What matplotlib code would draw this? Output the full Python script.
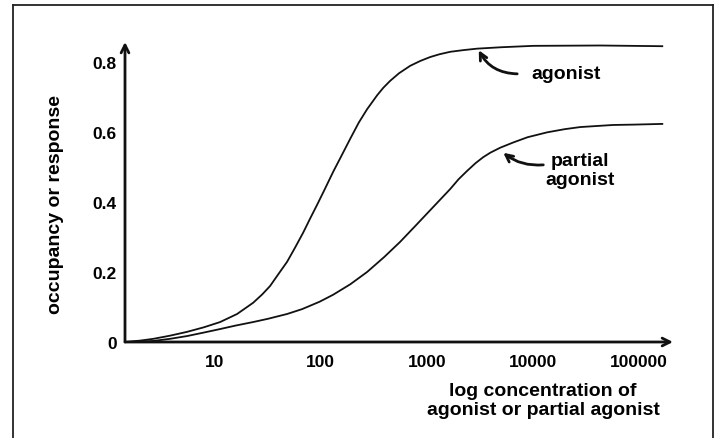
import matplotlib.pyplot as plt
from matplotlib.lines import Line2D

plt.rcParams['font.family'] = ['Liberation Sans', 'DejaVu Sans']
plt.rcParams['font.weight'] = 'bold'

# log10 of concentration
agonist_logc = [0.157, 0.30, 0.423, 0.58, 0.742, 0.90, 1.053, 1.213, 1.364, 1.45, 1.524,
                1.60, 1.684, 1.76, 1.835, 1.90, 1.967, 2.04, 2.118, 2.20, 2.278, 2.36,
                2.438, 2.533, 2.59, 2.655, 2.74, 2.844, 2.94, 3.032, 3.12, 3.221,
                3.35, 3.475, 3.70, 4.003, 4.634, 5.219]
agonist_resp = [0.0, 0.004, 0.009, 0.018, 0.029, 0.042, 0.057, 0.080, 0.112, 0.136, 0.160,
                0.193, 0.229, 0.270, 0.312, 0.352, 0.392, 0.437, 0.486, 0.534, 0.580, 0.627,
                0.665, 0.705, 0.726, 0.746, 0.768, 0.789, 0.803, 0.814, 0.822, 0.829,
                0.834, 0.838, 0.842, 0.846, 0.847, 0.845]

partial_logc = [0.157, 0.30, 0.423, 0.58, 0.742, 0.90, 1.053, 1.20, 1.364, 1.50, 1.684,
                1.826, 1.99, 2.118, 2.28, 2.438, 2.60, 2.749, 2.90, 3.062, 3.14, 3.221,
                3.30, 3.381, 3.46, 3.532, 3.60, 3.692, 3.815, 3.95, 4.135, 4.30, 4.446,
                4.60, 4.757, 4.95, 5.219]
partial_resp = [0.0, 0.001, 0.003, 0.009, 0.017, 0.027, 0.037, 0.047, 0.057, 0.066, 0.080,
                0.094, 0.115, 0.135, 0.165, 0.200, 0.243, 0.286, 0.334, 0.386, 0.411, 0.437,
                0.465, 0.489, 0.511, 0.528, 0.541, 0.555, 0.570, 0.585, 0.599, 0.608, 0.614,
                0.617, 0.620, 0.621, 0.623]

x_ticks = [10, 100, 1000, 10000, 100000]
x_tick_labels = ['10', '100', '1000', '10000', '100000']
y_ticks = [0, 0.2, 0.4, 0.6, 0.8]
y_tick_labels = ['0', '0.2', '0.4', '0.6', '0.8']

fig = plt.figure(figsize=(7.2, 4.39), dpi=100)
ax = fig.add_axes([125/720, 1 - 343/439, 548/720, 300/439])

ax.plot([10**v for v in agonist_logc], agonist_resp, color='#111111', lw=1.3)
ax.plot([10**v for v in partial_logc], partial_resp, color='#111111', lw=1.3)

ax.set_xscale('log')
ax.set_xlim(10**0.157, 10**5.32)
ax.set_ylim(0, 0.857)
ax.set_xticks(x_ticks)
ax.set_xticklabels(x_tick_labels)
ax.minorticks_off()
ax.set_yticks(y_ticks)
ax.set_yticklabels(y_tick_labels)
ax.tick_params(axis='both', length=0, labelsize=12.5)
ax.tick_params(axis='x', pad=9)
ax.tick_params(axis='y', pad=6)
for s in ax.spines.values():
    s.set_visible(False)

# axes drawn as arrows
ax.annotate('', xy=(1.0, 0), xytext=(0, 0), xycoords='axes fraction',
            arrowprops=dict(arrowstyle='->', lw=2.0, color='#111111',
                            shrinkA=0, shrinkB=0, mutation_scale=14))
ax.annotate('', xy=(0, 1.0), xytext=(0, 0), xycoords='axes fraction',
            arrowprops=dict(arrowstyle='->', lw=2.0, color='#111111',
                            shrinkA=0, shrinkB=0, mutation_scale=14))

fig.text(55/720, 1 - 204/439, 'occupancy or response', rotation=90,
         ha='center', va='center', fontsize=14, fontweight='bold')
fig.text(543/720, 1 - 401/439, 'log concentration of\nagonist or partial agonist',
         ha='center', va='center', fontsize=14, fontweight='bold', linespacing=1.1)

# labels with curved arrows
ax.annotate('', xy=(10**3.484, 0.837), xytext=(10**3.852, 0.766),
            arrowprops=dict(arrowstyle='->', lw=2.0, color='#111111',
                            connectionstyle='arc3,rad=-0.3',
                            shrinkA=0, shrinkB=1, mutation_scale=13))
ax.text(10**4.314, 0.766, 'agonist', fontsize=14, fontweight='bold',
        ha='center', va='center')
ax.annotate('', xy=(10**3.711, 0.543), xytext=(10**4.098, 0.506),
            arrowprops=dict(arrowstyle='->', lw=2.0, color='#111111',
                            connectionstyle='arc3,rad=-0.2',
                            shrinkA=0, shrinkB=1, mutation_scale=13))
ax.text(10**4.446, 0.491, 'partial\nagonist', fontsize=14, fontweight='bold',
        ha='center', va='center', linespacing=1.15)

# frame around the picture (open at the bottom)
for xs, ys in [([13/720, 713/720], [1 - 6/439, 1 - 6/439]),
               ([13/720, 13/720], [1 - 6/439, 0]),
               ([713/720, 713/720], [1 - 6/439, 0])]:
    fig.add_artist(Line2D(xs, ys, color='#222222', lw=1.3, transform=fig.transFigure))

fig.savefig('out.png', dpi=100)
